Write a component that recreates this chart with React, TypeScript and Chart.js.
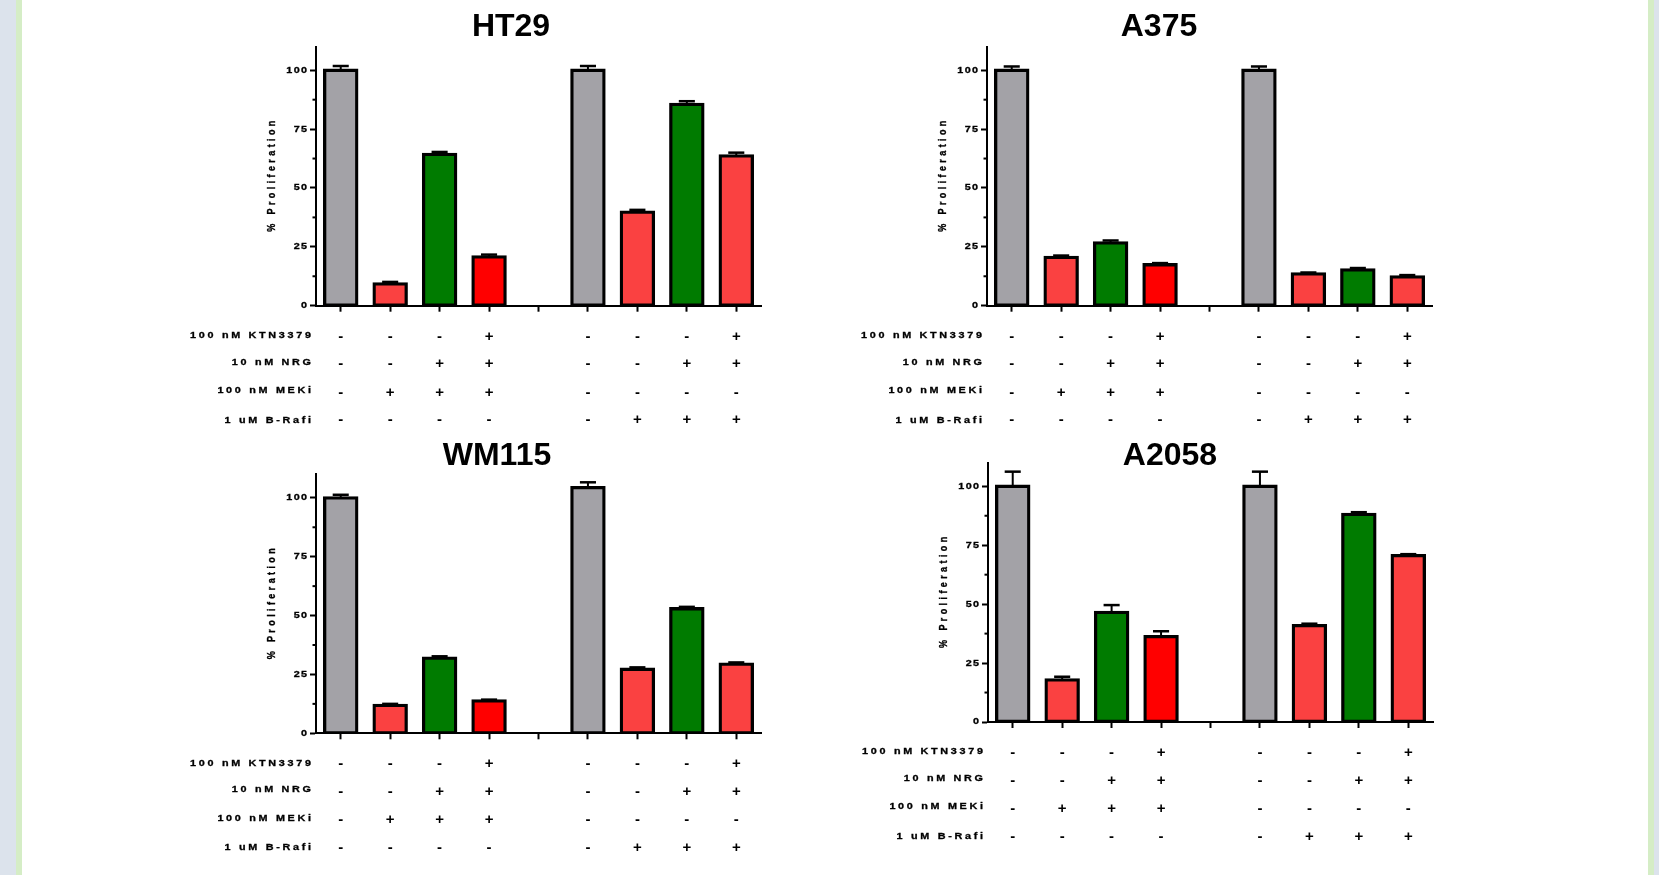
import React, { useEffect, useRef } from 'react';
import { Chart, registerables } from 'chart.js';

Chart.register(...registerables);

// ---------------- data ----------------
const categories = ['C1', 'C2', 'C3', 'C4', 'gap', 'C5', 'C6', 'C7', 'C8'];

const rowLabels = ['100 nM KTN3379', '10 nM NRG', '100 nM MEKi', '1 uM B-Rafi'];
const ktn3379Row = ['-', '-', '-', '+', '', '-', '-', '-', '+'];
const nrgRow = ['-', '-', '+', '+', '', '-', '-', '+', '+'];
const mekiRow = ['-', '+', '+', '+', '', '-', '-', '-', '-'];
const brafRow = ['-', '-', '-', '-', '', '-', '+', '+', '+'];
const treatmentRows = [ktn3379Row, nrgRow, mekiRow, brafRow];

const yTicks = [0, 25, 50, 75, 100];
const yMinorTicks = [12.5, 37.5, 62.5, 87.5];
const yMax = 110;
const yTitle = '% Proliferation';

const ht29Values = [100, 9.3, 64.3, 20.7, null, 100, 39.7, 85.5, 63.6];
const ht29Errors = [1.8, 0.8, 1.0, 1.0, null, 1.8, 1.0, 1.35, 1.4];

const a375Values = [100, 20.5, 26.7, 17.4, null, 100, 13.5, 15.2, 12.2];
const a375Errors = [1.6, 0.8, 1.0, 0.7, null, 1.6, 0.6, 0.8, 0.8];

const wm115Values = [100, 11.9, 31.9, 13.8, null, 104.3, 27.2, 52.9, 29.4];
const wm115Errors = [1.3, 0.6, 0.8, 0.5, null, 2.3, 0.8, 0.8, 0.7];

const a2058Values = [100, 17.9, 46.5, 36.2, null, 100, 40.9, 88.1, 70.6];
const a2058Errors = [6.2, 1.3, 3.1, 2.3, null, 6.2, 0.8, 0.9, 0.6];

// ---------------- styles ----------------
const GRAY = '#A3A2A7';
const RED = '#FA4141';
const GREEN = '#007B00';
const BRIGHT = '#FF0000';
const barColors = [GRAY, RED, GREEN, BRIGHT, GRAY, GRAY, RED, GREEN, RED];

const FONT = '"Liberation Sans", Arial, Helvetica, sans-serif';
const SMALL = 9;
const STRETCH = 1.2;
const labelOffsets = [30, 56.5, 85, 114.5];
const symbolOffsets = [31, 58.5, 87, 114.5];

type Panel = {
  name: string;
  values: (number | null)[];
  errors: (number | null)[];
  canvas: { left: number; top: number; width: number; height: number };
  area: { l: number; r: number; t: number; b: number };
  titleX: number;
  titleY: number;
};

const panels: Panel[] = [
  {
    name: 'HT29', values: ht29Values, errors: ht29Errors,
    canvas: { left: 160, top: 0, width: 700, height: 435 },
    area: { l: 316, r: 761, t: 46.7, b: 305.7 }, titleX: 511, titleY: 36,
  },
  {
    name: 'A375', values: a375Values, errors: a375Errors,
    canvas: { left: 840, top: 0, width: 700, height: 435 },
    area: { l: 987, r: 1432, t: 46.7, b: 305.7 }, titleX: 1159, titleY: 36,
  },
  {
    name: 'WM115', values: wm115Values, errors: wm115Errors,
    canvas: { left: 160, top: 435, width: 700, height: 440 },
    area: { l: 316, r: 761, t: 474.3, b: 733.3 }, titleX: 497, titleY: 465,
  },
  {
    name: 'A2058', values: a2058Values, errors: a2058Errors,
    canvas: { left: 840, top: 435, width: 700, height: 440 },
    area: { l: 988, r: 1433, t: 462.7, b: 722 }, titleX: 1170, titleY: 465,
  },
];

// right-aligned, letter-spaced, horizontally stretched small text
function smallText(ctx: any, text: string, xRight: number, y: number, ls: number) {
  ctx.save();
  ctx.translate(xRight, y);
  ctx.scale(STRETCH, 1);
  ctx.font = `bold ${SMALL}px ${FONT}`;
  ctx.letterSpacing = `${ls}px`;
  ctx.textAlign = 'right';
  ctx.textBaseline = 'middle';
  ctx.lineWidth = 0.3;
  ctx.fillText(text, ls, 0);
  ctx.strokeText(text, ls, 0);
  ctx.restore();
}

function makeDecor(p: Panel) {
  return {
    id: 'decor',
    afterDatasetsDraw(chart: any) {
      const ctx = chart.ctx;
      const meta = chart.getDatasetMeta(0);
      const ys = chart.scales.y;
      ctx.save();
      ctx.strokeStyle = '#000';
      meta.data.forEach((el: any, i: number) => {
        const v = p.values[i];
        const e = p.errors[i];
        if (v == null || e == null) return;
        const x = el.x;
        const yv = ys.getPixelForValue(v);
        const yt = ys.getPixelForValue(v + e);
        const half = el.width * 0.25;
        ctx.lineWidth = 2;
        ctx.beginPath();
        ctx.moveTo(x, yv);
        ctx.lineTo(x, yt);
        ctx.stroke();
        ctx.lineWidth = 2.5;
        ctx.beginPath();
        ctx.moveTo(x - half, yt);
        ctx.lineTo(x + half, yt);
        ctx.stroke();
      });
      ctx.restore();
    },
    afterDraw(chart: any) {
      const ctx = chart.ctx;
      const ys = chart.scales.y;
      const xs = chart.scales.x;
      const { left: l, top: t, bottom: b } = chart.chartArea;
      ctx.save();
      ctx.fillStyle = '#000';
      ctx.strokeStyle = '#000';

      // title
      ctx.letterSpacing = '0px';
      ctx.font = `bold 32px ${FONT}`;
      ctx.textAlign = 'center';
      ctx.textBaseline = 'alphabetic';
      ctx.fillText(p.name, p.titleX - p.canvas.left, p.titleY - p.canvas.top);

      // minor ticks
      ctx.lineWidth = 2;
      yMinorTicks.forEach((v) => {
        const y = ys.getPixelForValue(v);
        ctx.beginPath();
        ctx.moveTo(l - 3.5, y);
        ctx.lineTo(l, y);
        ctx.stroke();
      });

      // y tick labels
      yTicks.forEach((v) => {
        smallText(ctx, String(v), l - 9, ys.getPixelForValue(v), 1.1);
      });

      // axis title (glyphs stretched across the line, as in the source)
      const titleLs = 3.4;
      ctx.save();
      ctx.translate(l - 44, (t + b) / 2);
      ctx.rotate(-Math.PI / 2);
      ctx.scale(1, STRETCH);
      ctx.font = `bold ${SMALL}px ${FONT}`;
      ctx.letterSpacing = `${titleLs}px`;
      ctx.textAlign = 'center';
      ctx.textBaseline = 'middle';
      ctx.lineWidth = 0.3;
      ctx.fillText(yTitle, titleLs / 2, 0);
      ctx.strokeText(yTitle, titleLs / 2, 0);
      ctx.restore();

      // treatment table
      treatmentRows.forEach((row, r) => {
        smallText(ctx, rowLabels[r], l - 5, b + labelOffsets[r], 2.25);
        ctx.letterSpacing = '0px';
        ctx.font = `bold 15px ${FONT}`;
        ctx.textAlign = 'center';
        ctx.textBaseline = 'middle';
        row.forEach((s, i) => {
          if (!s) return;
          ctx.fillText(s, xs.getPixelForValue(i), b + symbolOffsets[r]);
        });
      });
      ctx.restore();
    },
  };
}

function buildConfig(p: Panel): any {
  const pad = {
    left: p.area.l - p.canvas.left,
    right: p.canvas.left + p.canvas.width - p.area.r,
    top: p.area.t - p.canvas.top,
    bottom: p.canvas.top + p.canvas.height - p.area.b,
  };
  const gridOpts = {
    display: true,
    drawOnChartArea: false,
    drawTicks: true,
    tickLength: 6,
    tickColor: '#000',
    tickWidth: 2,
    offset: false,
  };
  return {
    type: 'bar',
    data: {
      labels: categories,
      datasets: [
        {
          data: p.values,
          backgroundColor: barColors,
          borderColor: '#000',
          borderWidth: 3.3,
          borderSkipped: false,
          inflateAmount: 1.65,
          barPercentage: 0.65,
          categoryPercentage: 1,
        },
      ],
    },
    options: {
      animation: false,
      responsive: false,
      maintainAspectRatio: false,
      devicePixelRatio: 1,
      events: [],
      layout: { padding: pad },
      plugins: {
        legend: { display: false },
        title: { display: false },
        tooltip: { enabled: false },
      },
      scales: {
        x: {
          type: 'category',
          offset: true,
          grid: gridOpts,
          border: { display: true, color: '#000', width: 2 },
          ticks: { display: false, autoSkip: false },
          afterFit: (s: any) => { s.height = 0; },
        },
        y: {
          type: 'linear',
          min: 0,
          max: yMax,
          grid: gridOpts,
          border: { display: true, color: '#000', width: 2 },
          ticks: { display: false },
          afterBuildTicks: (s: any) => { s.ticks = yTicks.map((v) => ({ value: v })); },
          afterFit: (s: any) => { s.width = 0; },
        },
      },
    },
    plugins: [makeDecor(p)],
  };
}

function PanelChart({ panel }: { panel: Panel }) {
  const ref = useRef<HTMLCanvasElement | null>(null);
  useEffect(() => {
    if (!ref.current) return;
    const chart = new Chart(ref.current, buildConfig(panel));
    return () => chart.destroy();
  }, [panel]);
  const c = panel.canvas;
  return (
    <canvas
      ref={ref}
      width={c.width}
      height={c.height}
      style={{ position: 'absolute', left: c.left, top: c.top, width: c.width, height: c.height }}
    />
  );
}

export default function App() {
  return (
    <div style={{ position: 'fixed', left: 0, top: 0, width: 1659, height: 875, background: '#ffffff', overflow: 'hidden' }}>
      <div style={{ position: 'absolute', left: 0, top: 0, width: 16, height: 875, background: '#DCE3EC' }} />
      <div style={{ position: 'absolute', left: 16, top: 0, width: 6, height: 875, background: '#D5EDC6' }} />
      <div style={{ position: 'absolute', left: 1648, top: 0, width: 6, height: 875, background: '#D5EDC6' }} />
      <div style={{ position: 'absolute', left: 1654, top: 0, width: 5, height: 875, background: '#DCE3EC' }} />
      {panels.map((p) => (
        <PanelChart key={p.name} panel={p} />
      ))}
    </div>
  );
}
